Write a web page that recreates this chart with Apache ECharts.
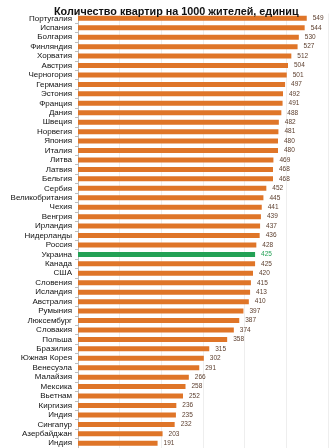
<!DOCTYPE html>
<html>
<head>
<meta charset="utf-8">
<script src="https://cdn.jsdelivr.net/npm/echarts@6/dist/echarts.min.js"></script>
<style>
html,body{margin:0;padding:0;background:#fff;}
#chart{width:334px;height:448px;}
</style>
</head>
<body>
<div id="chart"></div>
<script>
const categories = ["Португалия","Испания","Болгария","Финляндия","Хорватия","Австрия","Черногория","Германия","Эстония","Франция","Дания","Швеция","Норвегия","Япония","Италия","Литва","Латвия","Бельгия","Сербия","Великобритания","Чехия","Венгрия","Ирландия","Нидерланды","Россия","Украина","Канада","США","Словения","Исландия","Австралия","Румыния","Люксембург","Словакия","Польша","Бразилия","Южная Корея","Венесуэла","Малайзия","Мексика","Вьетнам","Киргизия","Индия","Сингапур","Азербайджан","Индия"];
const values = [549,544,530,527,512,504,501,497,492,491,488,482,481,480,480,469,468,468,452,445,441,439,437,436,428,425,425,420,415,413,410,397,387,374,358,315,302,291,266,258,252,236,235,232,203,191];
const highlight = "Украина";

const ORANGE = "#DF7528";
const GREEN = "#23A155";

const chart = echarts.init(document.getElementById('chart'), null, {renderer:'canvas'});
chart.setOption({
  animation:false,
  title:{
    text:"Количество квартир на 1000 жителей, единиц",
    left:49, top:2,
    textStyle:{fontFamily:'Liberation Sans, Arial, sans-serif', fontSize:10.8, fontWeight:'bold', color:'#111'}
  },
  grid:{left:78, right:6, top:13.6, height:435.2, containLabel:false},
  xAxis:{
    type:'value', min:0, max:600, interval:100,
    axisLabel:{show:false}, axisLine:{show:false}, axisTick:{show:false},
    splitLine:{show:true, lineStyle:{color:'#eeeeee', width:1}}
  },
  yAxis:{
    type:'category', data:categories, inverse:true,
    axisLine:{show:true, lineStyle:{color:'#bdbdbd'}},
    axisTick:{show:true, length:3, lineStyle:{color:'#bdbdbd'}},
    axisLabel:{fontFamily:'Liberation Sans, Arial, sans-serif', fontSize:8, color:'#111', margin:6, interval:0}
  },
  series:[{
    type:'bar',
    data:values.map((v,i)=>({value:v, itemStyle:{color: categories[i]===highlight?GREEN:ORANGE},
      label:{color: categories[i]===highlight?GREEN:'#5e4030'}})),
    barWidth:5,
    label:{show:true, position:'right', distance:6, fontSize:6.5, fontFamily:'Liberation Sans, Arial, sans-serif'}
  }]
});
</script>
</body>
</html>
